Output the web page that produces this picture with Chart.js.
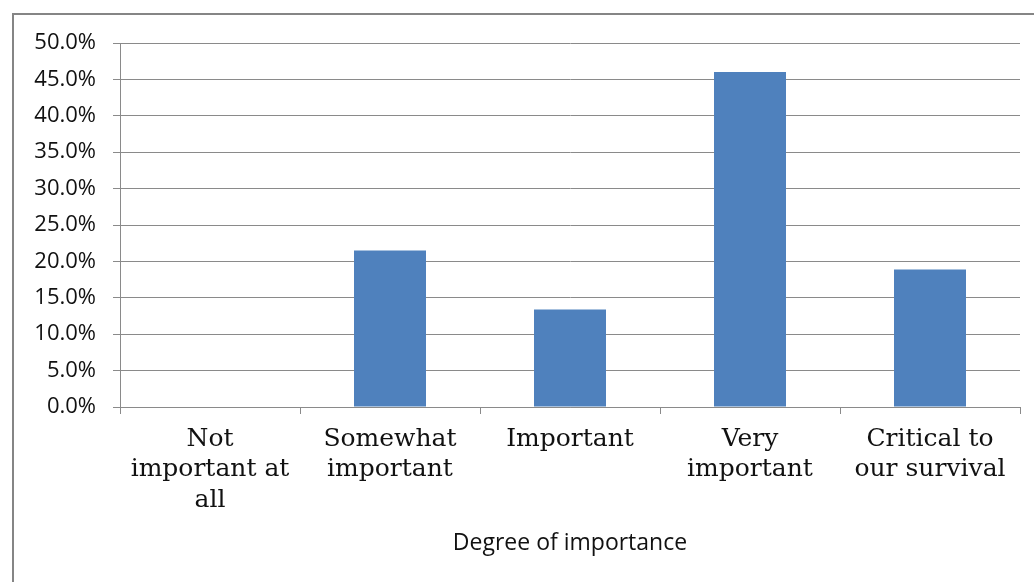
<!DOCTYPE html>
<html>
<head>
<meta charset="utf-8">
<title>Degree of importance</title>
<script src="https://cdn.jsdelivr.net/npm/chart.js@4.4.1/dist/chart.umd.min.js"></script>
<style>
  html, body { margin: 0; padding: 0; background: #ffffff; }
  body { width: 1034px; height: 582px; position: relative; overflow: hidden; }
  #frame {
    position: absolute; left: 12px; top: 13px; width: 1100px; height: 700px;
    border-left: 2px solid #858585; border-top: 2px solid #858585;
    box-sizing: border-box;
  }
  #wrap { position: absolute; left: 0; top: 0; width: 1034px; height: 582px; }
</style>
</head>
<body>
<div id="frame"></div>
<div id="wrap"><canvas id="chart" width="1034" height="582"></canvas></div>
<script>
// Survey answers: share of respondents per degree of importance (percent)
const categories = [
  ['Not', 'important at', 'all'],
  ['Somewhat', 'important'],
  ['Important'],
  ['Very', 'important'],
  ['Critical to', 'our survival']
];
const shares = [0, 21.5, 13.4, 46.0, 18.9];
const axisTitle = 'Degree of importance';
const yMax = 50;
const yStep = 5;

const gridGray = '#8a8a8a';

new Chart(document.getElementById('chart'), {
  type: 'bar',
  data: {
    labels: categories,
    datasets: [{
      data: shares,
      backgroundColor: '#4F81BD',
      borderWidth: 0,
      categoryPercentage: 1.0,
      barPercentage: 0.4
    }]
  },
  options: {
    responsive: false,
    animation: false,
    layout: { padding: { left: 0, top: 43, right: 14, bottom: 0 } },
    plugins: { legend: { display: false }, tooltip: { enabled: false } },
    scales: {
      x: {
        offset: true,
        grid: {
          offset: true,
          drawOnChartArea: false,
          drawTicks: true,
          tickLength: 7,
          color: gridGray,
          lineWidth: 1
        },
        border: { display: true, color: gridGray, width: 1 },
        ticks: {
          autoSkip: false,
          maxRotation: 0,
          minRotation: 0,
          padding: 10,
          color: '#111111',
          font: { family: '"DejaVu Serif", serif', size: 25, lineHeight: 1.22 }
        },
        title: {
          display: true,
          text: axisTitle,
          color: '#111111',
          font: { family: '"Open Sans", sans-serif', size: 23, lineHeight: 1.2 },
          padding: { top: 0, bottom: 25 }
        },
        afterFit: (s) => { s.height = 175; }
      },
      y: {
        min: 0,
        max: yMax,
        grid: {
          color: gridGray,
          lineWidth: 1,
          drawTicks: true,
          tickLength: 7
        },
        border: { display: true, color: gridGray, width: 1 },
        ticks: {
          stepSize: yStep,
          padding: 17,
          color: '#111111',
          font: { family: '"Open Sans", sans-serif', size: 22 },
          callback: (v) => v.toFixed(1) + '%'
        },
        afterFit: (s) => { s.width = 120; }
      }
    }
  }
});
</script>
</body>
</html>
